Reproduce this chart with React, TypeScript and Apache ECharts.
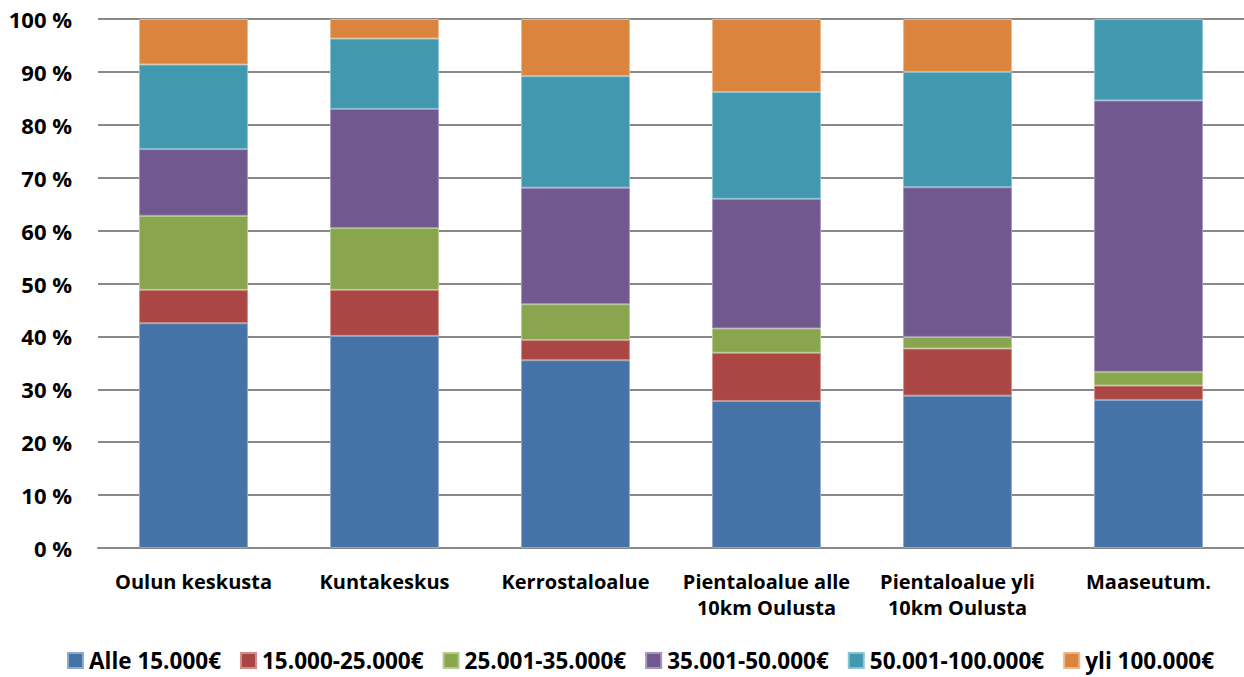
import React, { useEffect, useRef } from "react";
import * as echarts from "echarts";

const categories = [
  "Oulun keskusta",
  "Kuntakeskus",
  "Kerrostaloalue",
  "Pientaloalue alle\n10km Oulusta",
  "Pientaloalue yli\n10km Oulusta",
  "Maaseutum.",
];
const seriesNames = [
  "Alle 15.000€",
  "15.000-25.000€",
  "25.001-35.000€",
  "35.001-50.000€",
  "50.001-100.000€",
  "yli 100.000€",
];
const alle15 = [42.5, 40.1, 35.5, 27.8, 28.8, 28.0];
const s15to25 = [6.3, 8.7, 3.8, 9.1, 8.9, 2.7];
const s25to35 = [14.0, 11.7, 6.8, 4.6, 2.2, 2.6];
const s35to50 = [12.6, 22.5, 22.0, 24.5, 28.3, 51.3];
const s50to100 = [16.0, 13.3, 21.1, 20.2, 21.8, 15.4];
const yli100 = [8.6, 3.7, 10.8, 13.8, 10.0, 0];
const colors = ["#4572A7", "#AA4643", "#89A54E", "#71588F", "#4198AF", "#DB843D"];
const borders = ["#8FA9CF", "#CF8E8C", "#B5CC8E", "#A793BF", "#8CC3D2", "#EDB58A"];

const FONT = "'Open Sans', Lato, sans-serif";

export default function App() {
  const ref = useRef<HTMLDivElement>(null);
  useEffect(() => {
    if (!ref.current) return;
    const chart = echarts.init(ref.current, undefined, { renderer: "svg" });
    const data = [alle15, s15to25, s25to35, s35to50, s50to100, yli100];
    chart.setOption({
      animation: false,
      backgroundColor: "#ffffff",
      textStyle: { fontFamily: FONT },
      grid: { left: 98, top: 19, width: 1148, height: 529, containLabel: false },
      legend: {
        bottom: 0,
        left: 62,
        itemWidth: 15,
        itemHeight: 15,
        itemGap: 19,
        icon: "rect",
        textStyle: { fontFamily: FONT, fontWeight: "bold", fontSize: 22.5, color: "#000", padding: [0, 0, 0, 1] },
        data: seriesNames,
      },
      xAxis: {
        type: "category",
        data: categories,
        axisLine: { show: true, lineStyle: { color: "#898989", width: 2 } },
        axisTick: { show: false },
        axisLabel: {
          interval: 0,
          margin: 20,
          color: "#000",
          fontFamily: FONT,
          fontWeight: "bold",
          fontSize: 20,
          lineHeight: 26,
        },
      },
      yAxis: {
        type: "value",
        min: 0,
        max: 100,
        interval: 10,
        axisLine: { show: false },
        axisTick: { show: false },
        splitLine: { show: true, lineStyle: { color: "#898989", width: 2 } },
        axisLabel: {
          formatter: "{value} %",
          margin: 26,
          color: "#000",
          fontFamily: FONT,
          fontWeight: "bold",
          fontSize: 22,
        },
      },
      series: seriesNames.map((name, i) => ({
        name,
        type: "bar",
        stack: "total",
        barCategoryGap: "43%",
        data: data[i].map((v) => (v === 0 ? null : v)),
        itemStyle: { color: colors[i], borderColor: borders[i], borderWidth: 1 },
      })),
    });
    return () => chart.dispose();
  }, []);
  return (
    <div
      ref={ref}
      style={{ position: "fixed", left: 0, top: 0, width: 1244, height: 677 }}
    />
  );
}
